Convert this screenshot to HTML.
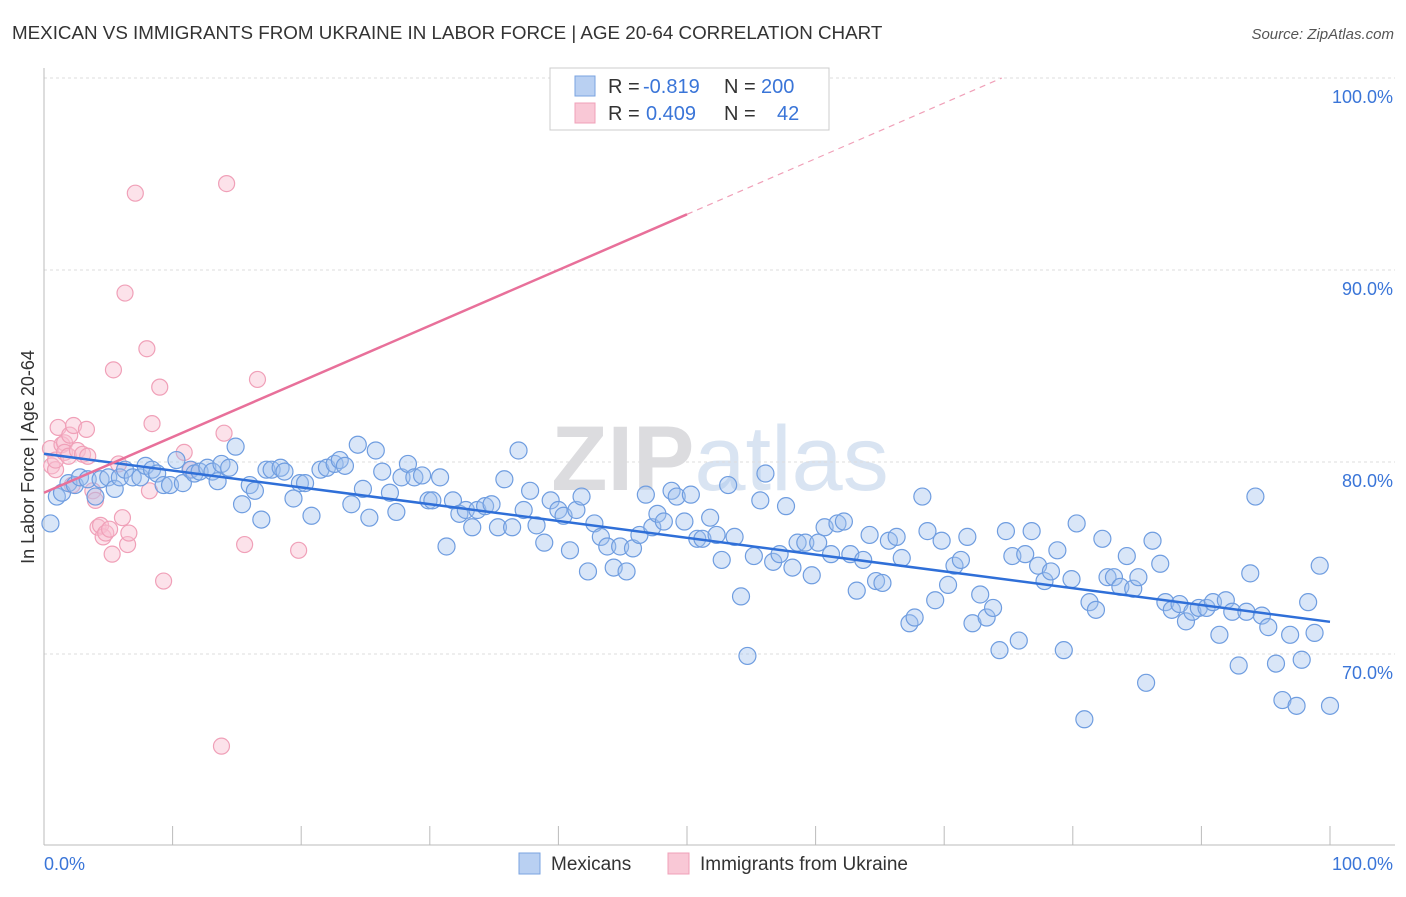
<!DOCTYPE html>
<html><head><meta charset="utf-8"><style>
body{margin:0;background:#fff;font-family:"Liberation Sans",sans-serif;}
svg text{font-family:"Liberation Sans",sans-serif;}
</style></head><body>
<svg id="chart" width="1406" height="892">
<text x="12" y="39" font-size="18.8" fill="#333">MEXICAN VS IMMIGRANTS FROM UKRAINE IN LABOR FORCE | AGE 20-64 CORRELATION CHART</text>
<text x="1394" y="39" font-size="15" fill="#555" text-anchor="end" font-style="italic">Source: ZipAtlas.com</text>
<text x="720" y="490" font-size="92" fill="#e8e8ea" text-anchor="middle" font-family="Liberation Serif"><tspan fill="#dcdcdf" font-weight="bold">ZIP</tspan><tspan fill="#d9e4f2" font-family="Liberation Sans">atlas</tspan></text>
<g id="grid"></g><g id="axes"></g><g id="pinkpts"></g><g id="bluepts"></g><g id="lines"></g>
<text transform="translate(34,457) rotate(-90)" font-size="18" fill="#333" text-anchor="middle">In Labor Force | Age 20-64</text>
<g>
<rect x="550" y="68" width="279" height="62" fill="#fff" stroke="#ccc"/>
<rect x="575" y="76" width="20" height="20" fill="#b9d0f2" stroke="#7aa3e0"/>
<rect x="575" y="103" width="20" height="20" fill="#f9c8d6" stroke="#f0a0b8"/>
<text y="93" font-size="20" fill="#333"><tspan x="608">R =</tspan><tspan x="643" fill="#3a75d8">-0.819</tspan><tspan x="724">N =</tspan><tspan x="761" fill="#3a75d8">200</tspan></text>
<text y="120" font-size="20" fill="#333"><tspan x="608">R =</tspan><tspan x="646" fill="#3a75d8">0.409</tspan><tspan x="724">N =</tspan><tspan x="777" fill="#3a75d8">42</tspan></text>
</g>
<g>
<rect x="519" y="853" width="21" height="21" fill="#b9d0f2" stroke="#7aa3e0"/>
<text x="551" y="870" font-size="19" fill="#333">Mexicans</text>
<rect x="668" y="853" width="21" height="21" fill="#f9c8d6" stroke="#f0a0b8"/>
<text x="700" y="870" font-size="19" fill="#333">Immigrants from Ukraine</text>
</g>
</svg>
<script>
const yTicks=[100,90,80,70];
const blueX=[0.5,1.0,1.4,1.9,2.4,2.8,3.4,4.0,4.4,5.0,5.5,5.9,6.3,6.9,7.5,7.9,8.4,8.8,9.3,9.8,10.3,10.8,11.4,11.7,12.1,12.7,13.1,13.5,13.8,14.4,14.9,15.4,16.0,16.4,16.9,17.3,17.7,18.4,18.7,19.4,19.9,20.3,20.8,21.5,22.0,22.6,23.0,23.4,23.9,24.4,24.8,25.3,25.8,26.3,26.9,27.4,27.8,28.3,28.8,29.4,29.9,30.2,30.8,31.3,31.8,32.3,32.8,33.3,33.7,34.3,34.8,35.3,35.8,36.4,36.9,37.3,37.8,38.3,38.9,39.4,40.0,40.4,40.9,41.4,41.8,42.3,42.8,43.3,43.8,44.3,44.8,45.3,45.8,46.3,46.8,47.3,47.7,48.2,48.8,49.2,49.8,50.3,50.8,51.2,51.8,52.3,52.7,53.2,53.7,54.2,54.7,55.2,55.7,56.1,56.7,57.2,57.7,58.2,58.6,59.2,59.7,60.2,60.7,61.2,61.7,62.2,62.7,63.2,63.7,64.2,64.7,65.2,65.7,66.3,66.7,67.3,67.7,68.3,68.7,69.3,69.8,70.3,70.8,71.3,71.8,72.2,72.8,73.3,73.8,74.3,74.8,75.3,75.8,76.3,76.8,77.3,77.8,78.3,78.8,79.3,79.9,80.3,80.9,81.3,81.8,82.3,82.7,83.2,83.7,84.2,84.7,85.1,85.7,86.2,86.8,87.2,87.7,88.3,88.8,89.3,89.8,90.4,90.9,91.4,91.9,92.4,92.9,93.5,93.8,94.2,94.7,95.2,95.8,96.3,96.9,97.4,97.8,98.3,98.8,99.2,100];
const blueY=[76.8,78.2,78.4,78.9,78.8,79.2,79.1,78.2,79.1,79.2,78.6,79.2,79.6,79.2,79.2,79.8,79.6,79.4,78.8,78.8,80.1,78.9,79.6,79.4,79.5,79.7,79.5,79.0,79.9,79.7,80.8,77.8,78.8,78.5,77.0,79.6,79.6,79.7,79.5,78.1,78.9,78.9,77.2,79.6,79.7,79.9,80.1,79.8,77.8,80.9,78.6,77.1,80.6,79.5,78.4,77.4,79.2,79.9,79.2,79.3,78.0,78.0,79.2,75.6,78.0,77.3,77.5,76.6,77.5,77.7,77.8,76.6,79.1,76.6,80.6,77.5,78.5,76.7,75.8,78.0,77.5,77.2,75.4,77.5,78.2,74.3,76.8,76.1,75.6,74.5,75.6,74.3,75.5,76.2,78.3,76.6,77.3,76.9,78.5,78.2,76.9,78.3,76.0,76.0,77.1,76.2,74.9,78.8,76.1,73.0,69.9,75.1,78.0,79.4,74.8,75.2,77.7,74.5,75.8,75.8,74.1,75.8,76.6,75.2,76.8,76.9,75.2,73.3,74.9,76.2,73.8,73.7,75.9,76.1,75.0,71.6,71.9,78.2,76.4,72.8,75.9,73.6,74.6,74.9,76.1,71.6,73.1,71.9,72.4,70.2,76.4,75.1,70.7,75.2,76.4,74.6,73.8,74.3,75.4,70.2,73.9,76.8,66.6,72.7,72.3,76.0,74.0,74.0,73.5,75.1,73.4,74.0,68.5,75.9,74.7,72.7,72.3,72.6,71.7,72.2,72.4,72.4,72.7,71.0,72.8,72.2,69.4,72.2,74.2,78.2,72.0,71.4,69.5,67.6,71.0,67.3,69.7,72.7,71.1,74.6,67.3];
const pinkX=[0.5,0.6,0.9,0.9,1.1,1.4,1.6,1.6,1.9,2.0,2.2,2.3,2.6,3.0,3.3,3.4,3.8,4.0,4.2,4.4,4.6,4.8,5.1,5.3,5.4,5.8,6.1,6.3,6.5,6.6,7.1,8.0,8.2,8.4,9.0,9.3,10.9,11.4,13.8,14.0,14.2,15.6,16.6,19.8];
const pinkY=[80.7,79.8,79.6,80.1,81.8,80.9,81.0,80.5,80.3,81.4,78.8,81.9,80.6,80.4,81.7,80.3,78.5,78.0,76.6,76.7,76.1,76.3,76.5,75.2,84.8,79.9,77.1,88.8,75.7,76.3,94.0,85.9,78.5,82.0,83.9,73.8,80.5,79.6,65.2,81.5,94.5,75.7,84.3,75.4];
// reported trend for Ukraine series: [intercept %, slope % per %]
const pinkTrend=[78.4,0.29];

const NS='http://www.w3.org/2000/svg';
const X=v=>44+v*12.86;
const Y=v=>462-(v-80)*19.2;
function mk(tag,attrs,parent){const e=document.createElementNS(NS,tag);for(const k in attrs)e.setAttribute(k,attrs[k]);document.getElementById(parent).appendChild(e);return e;}
yTicks.forEach(t=>{
  const l=mk('line',{x1:44,x2:1395,y1:Y(t),y2:Y(t),stroke:'#ddd','stroke-dasharray':'3,3'},'grid');
  
  
  const tx=mk('text',{x:1393,y:Y(t)+25,'font-size':18,fill:'#3a75d8','text-anchor':'end'},'grid');
  tx.textContent=t.toFixed(1)+'%';
  
  
});
mk('line',{x1:44,x2:44,y1:68,y2:845,stroke:'#bbb'},'axes');
const xa=mk('line',{x1:44,x2:1395,y1:845,y2:845,stroke:'#bbb'},'axes');


for(let i=0;i<=10;i++){mk('line',{x1:X(i*10),x2:X(i*10),y1:826,y2:845,stroke:'#bbb'},'axes');}
let t0=mk('text',{x:44,y:870,'font-size':18,fill:'#3a75d8'},'axes');t0.textContent='0.0%';


let t1=mk('text',{x:1393,y:870,'font-size':18,fill:'#3a75d8','text-anchor':'end'},'axes');t1.textContent='100.0%';


pinkX.forEach((x,i)=>{const c=mk('circle',{cx:X(x),cy:Y(pinkY[i]),r:8,fill:'rgba(249,190,208,0.45)',stroke:'#f0a0b8','stroke-width':1.2},'pinkpts');
  
  });
blueX.forEach((x,i)=>{const c=mk('circle',{cx:X(x),cy:Y(blueY[i]),r:8.5,fill:'rgba(160,192,238,0.4)',stroke:'#6f9de0','stroke-width':1.2},'bluepts');
  
  });
function fit(xs,ys){const n=xs.length;let mx=0,my=0;xs.forEach((x,i)=>{mx+=x;my+=ys[i];});mx/=n;my/=n;let sxy=0,sxx=0;xs.forEach((x,i)=>{sxy+=(x-mx)*(ys[i]-my);sxx+=(x-mx)**2;});const b=sxy/sxx;return [my-b*mx,b];}
const [ba,bb]=fit(blueX,blueY);
const bl=mk('line',{x1:X(0),y1:Y(ba),x2:X(100),y2:Y(ba+bb*100),stroke:'#2f6fd8','stroke-width':2.5},'lines');


const pa=pinkTrend[0], pb=pinkTrend[1];
const pl=mk('line',{x1:X(0),y1:Y(pa),x2:X(50),y2:Y(pa+pb*50),stroke:'#e8709a','stroke-width':2.5},'lines');


let xe=100; if(pb>0){xe=Math.min(100,(100-pa)/pb);}
const pd=mk('line',{x1:X(50),y1:Y(pa+pb*50),x2:X(xe),y2:Y(pa+pb*xe),stroke:'#f0a0b8','stroke-width':1.2,'stroke-dasharray':'6,5'},'lines');


</script>
</body></html>
